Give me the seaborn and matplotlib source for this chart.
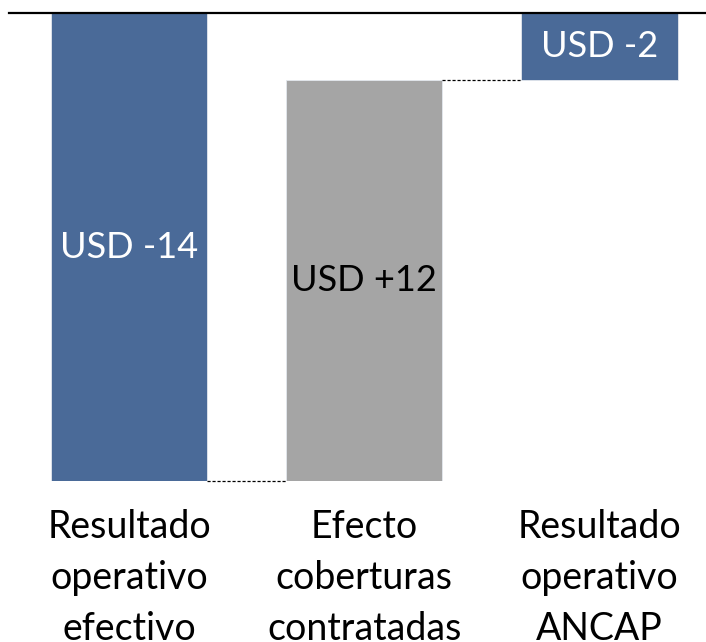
import matplotlib
matplotlib.use('Agg')
import matplotlib.pyplot as plt
import seaborn as sns
import pandas as pd

# Datos del gráfico (USD millones)
categorias = ['Resultado\noperativo\nefectivo', 'Efecto\ncoberturas\ncontratadas', 'Resultado\noperativo\nANCAP']
inicio = [0, -14, 0]
fin = [-14, -2, -2]
etiquetas = ['USD -14', 'USD +12', 'USD -2']
colores = ['#4A6A98', '#A5A5A5', '#4A6A98']
color_texto = ['white', 'black', 'white']

sns.set_theme(style='white')
plt.rcParams['font.family'] = ['Lato', 'DejaVu Sans']

df = pd.DataFrame({'cat': categorias,
                   'alto': [f - i for i, f in zip(inicio, fin)],
                   'base': inicio})

fig = plt.figure(figsize=(7.06, 6.42), dpi=100)
ax = fig.add_axes([9 / 706, (642 - 481) / 642, 697 / 706, 468 / 642])

sns.barplot(data=df, x='cat', y='alto', bottom=df['base'].values, order=categorias,
            width=0.664, errorbar=None, ax=ax, color=colores[0], saturation=1,
            edgecolor='#E4E8EE', linewidth=0.6)

for p, c in zip(ax.patches, colores):
    p.set_facecolor(c)

# etiquetas dentro de las barras
for i, (a, b, t, tc) in enumerate(zip(inicio, fin, etiquetas, color_texto)):
    ax.text(i, (a + b) / 2, t, ha='center', va='center', color=tc, fontsize=26)

# conectores punteados
w = 0.664 / 2
for i in range(len(categorias) - 1):
    ax.plot([i + w, i + 1 - w], [fin[i], fin[i]], color='black', lw=0.9,
            ls=(0, (2.5, 1.5)), clip_on=False)

ax.set_xlim(-0.511, 2.453)
ax.set_ylim(-14, 0)
ax.set_xlabel('')
ax.set_ylabel('')
ax.set_yticks([])
ax.tick_params(axis='x', length=0, pad=20, labelsize=27, labelcolor='black')
for lbl in ax.get_xticklabels():
    lbl.set_linespacing(1.52)

for s in ['left', 'right', 'bottom']:
    ax.spines[s].set_visible(False)
ax.spines['top'].set_visible(True)
ax.spines['top'].set_color('black')
ax.spines['top'].set_linewidth(1.6)

fig.savefig('out.png', dpi=100)
